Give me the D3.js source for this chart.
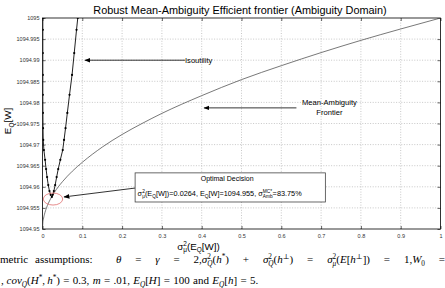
<!DOCTYPE html>
<html><head><meta charset="utf-8">
<script src="https://cdn.jsdelivr.net/npm/d3@7"></script>
<style>html,body{margin:0;padding:0;background:#fff}svg{display:block}</style>
</head><body>
<script>
// ---------- data ----------
const xTicks = [0,0.1,0.2,0.3,0.4,0.5,0.6,0.7,0.8,0.9,1];
const xTickLabels = ["0","0.1","0.2","0.3","0.4","0.5","0.6","0.7","0.8","0.9","1"];
const yTicks = [1094.95,1094.955,1094.96,1094.965,1094.97,1094.975,1094.98,1094.985,1094.99,1094.995,1095];
const yTickLabels = ["1094.95","1094.955","1094.96","1094.965","1094.97","1094.975","1094.98","1094.985","1094.99","1094.995","1095"];

const frontierVar  = [0,0.001,0.002,0.005,0.01,0.02,0.03,0.05,0.075,0.1,0.15,0.2,0.25,0.3,0.4,0.5,0.6,0.7,0.8,0.9,1.0];
const frontierMean = [1094.95,1094.9516,1094.9522,1094.9535,1094.955,1094.9571,1094.9587,1094.9612,1094.9637,1094.9658,1094.9694,1094.9724,1094.975,1094.9774,1094.9816,1094.9854,1094.9887,1094.9918,1094.9947,1094.9974,1095.0];

const isoVar  = [0.0008,0.0008,0.0008,0.0008,0.0008,0.001,0.0013,0.0018,0.0035,0.0065,0.009,0.0115,0.0145,0.0175,0.0205,0.0235,0.0258,0.0285,0.0318,0.0355,0.0395,0.0448,0.0508,0.0541,0.0579,0.0624,0.0679,0.0742,0.0797,0.0855,0.0886];
const isoMean = [1095.0,1094.9972,1094.9917,1094.9865,1094.9818,1094.9775,1094.9739,1094.9711,1094.9687,1094.9664,1094.9642,1094.9623,1094.9604,1094.959,1094.9581,1094.9576,1094.9581,1094.959,1094.9604,1094.9623,1094.9642,1094.9664,1094.9687,1094.9711,1094.9739,1094.9775,1094.9818,1094.9865,1094.9917,1094.9972,1095.0];

const optimalVar = 0.0264;
const optimalMean = 1094.9571;

// ---------- layout ----------
const W = 445, H = 288;
const x = d3.scaleLinear().domain([0,1]).range([42.5,440.5]);
const y = d3.scaleLinear().domain([1094.95,1095]).range([229,18]);
const SANS = "'Liberation Sans', Arial, Helvetica, sans-serif";
const SERIF = "'Liberation Serif', 'DejaVu Serif', serif";

const svg = d3.select("body").append("svg").attr("width",W).attr("height",H)
  .style("font-family",SANS);

svg.append("defs").append("clipPath").attr("id","plotclip")
  .append("rect").attr("x",x(0)).attr("y",y(1095)).attr("width",x(1)-x(0)).attr("height",y(1094.95)-y(1095));

const mk = svg.select("defs").append("marker").attr("id","arrow")
  .attr("viewBox","0 0 10 10").attr("refX",9).attr("refY",5)
  .attr("markerWidth",6).attr("markerHeight",6).attr("markerUnits","userSpaceOnUse")
  .attr("orient","auto-start-reverse");
mk.append("path").attr("d","M0,1 L10,5 L0,9 Z").attr("fill","#000");

// grid
const grid = svg.append("g").attr("stroke","#b0b0b0").attr("stroke-width",0.7).attr("stroke-dasharray","1,1.6");
grid.selectAll(".gx").data(xTicks.slice(1,-1)).join("line")
  .attr("x1",d=>x(d)).attr("x2",d=>x(d)).attr("y1",y(1094.95)).attr("y2",y(1095));
grid.selectAll(".gy").data(yTicks.slice(1,-1)).join("line")
  .attr("y1",d=>y(d)).attr("y2",d=>y(d)).attr("x1",x(0)).attr("x2",x(1));

// axes
function styleAxis(g){
  g.select(".domain").remove();
  g.selectAll(".tick line").attr("stroke","#000").attr("stroke-width",0.6);
  g.selectAll(".tick text").attr("font-size",5.5).attr("fill","#333").attr("font-family",SANS);
}
svg.append("g").attr("transform",`translate(${x(0)},0)`)
  .call(d3.axisLeft(y).tickValues(yTicks).tickFormat((d,i)=>yTickLabels[i]).tickSizeInner(-3).tickSizeOuter(0).tickPadding(3))
  .call(styleAxis);
svg.append("g").attr("transform",`translate(0,${y(1094.95)})`)
  .call(d3.axisBottom(x).tickValues(xTicks).tickFormat((d,i)=>xTickLabels[i]).tickSizeInner(-3).tickSizeOuter(0).tickPadding(5))
  .call(styleAxis);
svg.append("g").attr("transform",`translate(${x(1)},0)`)
  .call(d3.axisRight(y).tickValues(yTicks).tickFormat("").tickSizeInner(-3).tickSizeOuter(0))
  .call(styleAxis);
svg.append("g").attr("transform",`translate(0,${y(1095)})`)
  .call(d3.axisTop(x).tickValues(xTicks).tickFormat("").tickSizeInner(-3).tickSizeOuter(0))
  .call(styleAxis);
svg.append("rect").attr("x",x(0)).attr("y",y(1095)).attr("width",x(1)-x(0)).attr("height",y(1094.95)-y(1095))
  .attr("fill","none").attr("stroke","#000").attr("stroke-width",0.8);

// curves
const plot = svg.append("g").attr("clip-path","url(#plotclip)");
const frontier = frontierVar.map((v,i)=>[v,frontierMean[i]]);
const iso = isoVar.map((v,i)=>[v,isoMean[i]]);
plot.append("path").datum(frontier).attr("d",d3.line().x(d=>x(d[0])).y(d=>y(d[1])).curve(d3.curveMonotoneX))
  .attr("fill","none").attr("stroke","#555").attr("stroke-width",0.8);
plot.append("path").datum(iso).attr("d",d3.line().x(d=>x(d[0])).y(d=>y(d[1])))
  .attr("fill","none").attr("stroke","#222").attr("stroke-width",1);
plot.selectAll(".dot").data(iso).join("circle")
  .attr("cx",d=>x(d[0])).attr("cy",d=>y(d[1])).attr("r",1.1).attr("fill","#000");

// red ellipse around optimum
svg.append("ellipse").attr("cx",x(optimalVar)).attr("cy",y(optimalMean)).attr("rx",9.7).attr("ry",6)
  .attr("fill","none").attr("stroke","#e07070").attr("stroke-width",0.8);

// ---------- rich text helper: one <text>, absolutely positioned tspans ----------
function rich(parent, pieces, o){
  const fs = o.size;
  const txt = parent.append("text").attr("fill",o.color||"#000").style("font-family",o.family||SANS)
    .attr("font-size",fs).attr("font-weight",o.weight||null);
  const items = [];
  pieces.forEach(p=>{
    if (typeof p === "string") p = {t:p};
    if (p.gap !== undefined){ items.push({gap:p.gap*fs, w:(p.w===undefined?1:p.w)}); return; }
    const els = []; let w = 0;
    if (p.t !== undefined){
      const e = txt.append("tspan").attr("font-style",p.i?"italic":null).text(p.t);
      els.push({e,dy:0}); w = e.node().getComputedTextLength();
    } else {
      if (p.sup !== undefined){
        const e = txt.append("tspan").attr("font-size",fs*0.66).attr("font-style",p.si?"italic":null).text(p.sup);
        els.push({e,dy:-0.4*fs}); w = Math.max(w,e.node().getComputedTextLength());
      }
      if (p.sub !== undefined){
        const e = txt.append("tspan").attr("font-size",fs*0.66).attr("font-style",p.bi?"italic":null).text(p.sub);
        els.push({e,dy:0.3*fs}); w = Math.max(w,e.node().getComputedTextLength());
      }
    }
    items.push({els,width:w});
  });
  const gaps = items.filter(it=>it.gap!==undefined);
  const nat = items.reduce((s,it)=>s+(it.gap!==undefined?it.gap:it.width),0);
  const wSum = gaps.reduce((s,g)=>s+g.w,0);
  const unit = (o.justify && wSum) ? (o.justify-nat)/wSum : 0;
  const total = o.justify ? o.justify : nat;
  let cx = o.anchor==="middle" ? -total/2 : 0;
  items.forEach(it=>{
    if (it.gap!==undefined){ cx += it.gap+unit*it.w; return; }
    it.els.forEach(({e,dy})=>e.attr("x",cx).attr("y",dy));
    cx += it.width;
  });
  txt.attr("transform",`translate(${o.x},${o.y})`+(o.rotate?` rotate(${o.rotate})`:""));
  return txt;
}

// title
svg.append("text").attr("x",240).attr("y",14).attr("text-anchor","middle").attr("fill","#000")
  .attr("font-size",10.9).text("Robust Mean-Ambiguity Efficient frontier (Ambiguity Domain)");

// axis labels
rich(svg,[{t:"σ"},{sup:"2",sub:"μ"},{t:"(E"},{sub:"Q"},{t:"[W])"}],{x:198.5,y:249.5,size:9.8,anchor:"middle"});
rich(svg,[{t:"E"},{sub:"Q"},{t:"[W]"}],{x:11,y:121,size:9.8,anchor:"middle",rotate:-90});

// annotations
const ann = svg.append("g");
ann.append("line").attr("x1",x(0.358)).attr("y1",y(1094.99)).attr("x2",x(0.107)).attr("y2",y(1094.99))
  .attr("stroke","#000").attr("stroke-width",0.8).attr("marker-end","url(#arrow)");
ann.append("text").attr("x",x(0.358)).attr("y",y(1094.99)+2.6).attr("font-size",7.6).attr("fill","#000").text("Isoutility");

ann.append("line").attr("x1",x(0.638)).attr("y1",y(1094.9787)).attr("x2",x(0.406)).attr("y2",y(1094.9787))
  .attr("stroke","#000").attr("stroke-width",0.8).attr("marker-end","url(#arrow)");
ann.append("text").attr("x",x(0.721)).attr("y",y(1094.9801)+2.6).attr("text-anchor","middle").attr("font-size",7.6).attr("fill","#000").text("Mean-Ambiguity");
ann.append("text").attr("x",x(0.721)).attr("y",y(1094.9777)+2.6).attr("text-anchor","middle").attr("font-size",7.6).attr("fill","#000").text("Frontier");

ann.append("line").attr("x1",x(0.2327)).attr("y1",y(1094.9597)).attr("x2",x(0.0541)).attr("y2",y(1094.9576))
  .attr("stroke","#000").attr("stroke-width",0.8).attr("marker-end","url(#arrow)");
ann.append("rect").attr("x",x(0.2327)).attr("y",y(1094.9633)).attr("width",x(0.7107)-x(0.2327)).attr("height",y(1094.9564)-y(1094.9633))
  .attr("fill","#fff").attr("stroke","#444").attr("stroke-width",0.8);
ann.append("text").attr("x",x(0.464)).attr("y",180.5).attr("text-anchor","middle").attr("font-size",7).attr("fill","#000").text("Optimal Decision");
rich(ann,[{t:"σ"},{sup:"2",sub:"μ"},{t:"(E"},{sub:"Q"},{t:"[W])=0.0264, E"},{sub:"Q"},{t:"[W]=1094.955, σ"},{sup:"MC*",sub:"Amb"},{t:"=83.75%"}],
  {x:x(0.2327)+2.5,y:196,size:7.3});

// bottom LaTeX text
const G = {gap:0.3};
rich(svg,[{t:"metric"},{gap:0.3,w:0.35},{t:"assumptions:"},{gap:0.6,w:1.6},{t:"θ",i:1},G,{t:"="},G,{t:"γ",i:1},G,{t:"="},G,
  {t:"2,"},{t:"σ",i:1},{sup:"2",sub:"Q",bi:1},{t:"("},{t:"h",i:1},{sup:"*"},{t:")"},G,{t:"+"},G,
  {t:"σ",i:1},{sup:"2",sub:"Q",bi:1},{t:"("},{t:"h",i:1},{sup:"⊥"},{t:")"},G,{t:"="},G,
  {t:"σ",i:1},{sup:"2",sub:"μ",bi:1},{t:"("},{t:"E",i:1},{t:"["},{t:"h",i:1},{sup:"⊥"},{t:"])"},G,{t:"="},G,
  {t:"1,"},{t:"W",i:1},{sub:"0"},G,{t:"="}],
  {x:0,y:263,size:11,family:SERIF,justify:445});
rich(svg,[{t:","},{gap:0.25},{t:"cov",i:1},{sub:"Q",bi:1},{t:"("},{t:"H",i:1},{sup:"*"},{t:","},{gap:0.2},{t:"h",i:1},{sup:"*"},{t:")"},G,{t:"="},G,
  {t:"0.3,"},G,{t:"m",i:1},G,{t:"="},G,{t:".01,"},G,{t:"E",i:1},{sub:"Q",bi:1},{t:"["},{t:"H",i:1},{t:"]"},G,{t:"="},G,{t:"100"},G,{t:"and"},G,
  {t:"E",i:1},{sub:"Q",bi:1},{t:"["},{t:"h",i:1},{t:"]"},G,{t:"="},G,{t:"5."}],
  {x:1,y:284,size:11,family:SERIF});
</script>
</body></html>
